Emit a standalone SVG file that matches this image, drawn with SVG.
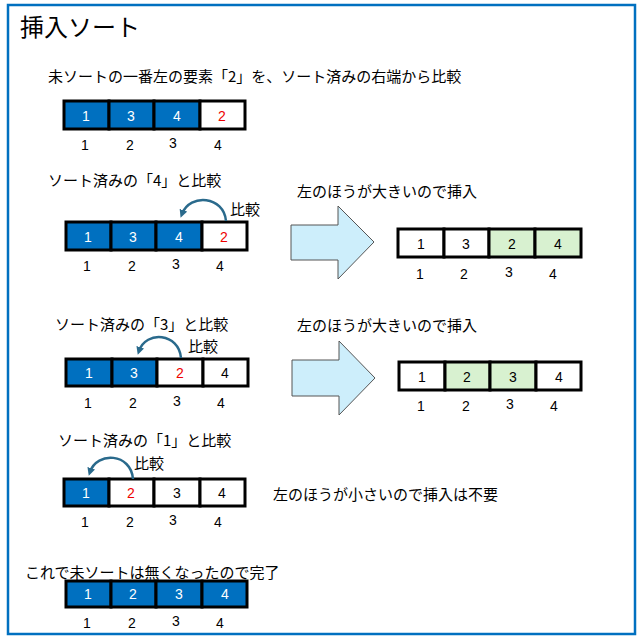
<svg xmlns="http://www.w3.org/2000/svg" width="639" height="637" viewBox="0 0 639 637">
<style>
text{font-family:"Noto Sans CJK JP","Liberation Sans",sans-serif;fill:#000}
.t{font-size:15px}
.n{font-size:14px;font-family:"Liberation Sans",sans-serif;text-anchor:middle}
.c{stroke:#000;stroke-width:3}
.b{fill:#0070c0}.w{fill:#fff}.g{fill:#d8f1d0}
.wt{fill:#fff}.r{fill:#e00}
.arc{fill:none;stroke:#2a6a8c;stroke-width:2.5}
.big{fill:#cdeefb;stroke:#555;stroke-width:1}
</style>
<defs>
<marker id="ah" markerWidth="8" markerHeight="8" refX="4" refY="4" orient="auto" markerUnits="userSpaceOnUse"><path d="M0,0 L8,4 L0,8z" fill="#2a6a8c"/></marker>
</defs>
<rect x="8" y="5" width="627" height="629" fill="#fff" stroke="#0070c0" stroke-width="2.5"/>
<text x="20" y="36" style="font-size:24px">挿入ソート</text>

<g id="row1">
<text class="t" x="48" y="82">未ソートの一番左の要素「2」を、ソート済みの右端から比較</text>
<rect class="c b" x="64" y="101" width="45" height="28"/><rect class="c b" x="109" y="101" width="45" height="28"/><rect class="c b" x="154" y="101" width="46" height="28"/><rect class="c w" x="200" y="101" width="45" height="28"/>
<text class="n wt" x="86" y="121">1</text><text class="n wt" x="131" y="121">3</text><text class="n wt" x="177" y="121">4</text><text class="n r" x="222" y="121">2</text>
<text class="n" x="85" y="150">1</text><text class="n" x="130" y="150">2</text><text class="n" x="173" y="148">3</text><text class="n" x="218" y="150">4</text>
</g>

<g id="row2">
<text class="t" x="48" y="186">ソート済みの「4」と比較</text>
<rect class="c b" x="66" y="222" width="45" height="28"/><rect class="c b" x="111" y="222" width="45" height="28"/><rect class="c b" x="156" y="222" width="46" height="28"/><rect class="c w" x="202" y="222" width="45" height="28"/>
<text class="n wt" x="88" y="242">1</text><text class="n wt" x="133" y="242">3</text><text class="n wt" x="179" y="242">4</text><text class="n r" x="224" y="242">2</text>
<text class="n" x="87" y="271">1</text><text class="n" x="132" y="271">2</text><text class="n" x="176" y="269">3</text><text class="n" x="220" y="271">4</text>
<text class="t" x="230" y="215">比較</text>
<text class="t" x="297" y="197">左のほうが大きいので挿入</text>
<path class="big" d="M291,225 H338 V206 L374,242 L338,279 V260 H291 Z"/>
<rect class="c w" x="398" y="229" width="46" height="28"/><rect class="c w" x="444" y="229" width="45" height="28"/><rect class="c g" x="489" y="229" width="46" height="28"/><rect class="c g" x="535" y="229" width="46" height="28"/>
<text class="n" x="421" y="249">1</text><text class="n" x="466" y="249">3</text><text class="n" x="512" y="249">2</text><text class="n" x="558" y="249">4</text>
<text class="n" x="420" y="279">1</text><text class="n" x="464" y="279">2</text><text class="n" x="509" y="277">3</text><text class="n" x="553" y="279">4</text>
</g>

<g id="row3">
<text class="t" x="55" y="330">ソート済みの「3」と比較</text>
<rect class="c b" x="66" y="359" width="46" height="27"/><rect class="c b" x="112" y="359" width="45" height="27"/><rect class="c w" x="157" y="359" width="46" height="27"/><rect class="c w" x="203" y="359" width="45" height="27"/>
<text class="n wt" x="89" y="378">1</text><text class="n wt" x="134" y="378">3</text><text class="n r" x="180" y="378">2</text><text class="n" x="225" y="378">4</text>
<text class="n" x="88" y="408">1</text><text class="n" x="133" y="408">2</text><text class="n" x="177" y="406">3</text><text class="n" x="221" y="408">4</text>
<text class="t" x="188" y="352">比較</text>
<text class="t" x="297" y="331">左のほうが大きいので挿入</text>
<path class="big" d="M292,360 H339 V341 L375,378 L339,415 V396 H292 Z"/>
<rect class="c w" x="399" y="362" width="46" height="28"/><rect class="c g" x="445" y="362" width="45" height="28"/><rect class="c g" x="490" y="362" width="46" height="28"/><rect class="c w" x="536" y="362" width="45" height="28"/>
<text class="n" x="422" y="382">1</text><text class="n" x="467" y="382">2</text><text class="n" x="513" y="382">3</text><text class="n" x="559" y="382">4</text>
<text class="n" x="421" y="411">1</text><text class="n" x="466" y="411">2</text><text class="n" x="510" y="409">3</text><text class="n" x="554" y="411">4</text>
</g>

<g id="row4">
<text class="t" x="58" y="446">ソート済みの「1」と比較</text>
<rect class="c b" x="64" y="479" width="45" height="27"/><rect class="c w" x="109" y="479" width="45" height="27"/><rect class="c w" x="154" y="479" width="46" height="27"/><rect class="c w" x="200" y="479" width="45" height="27"/>
<text class="n wt" x="86" y="498">1</text><text class="n r" x="131" y="498">2</text><text class="n" x="177" y="498">3</text><text class="n" x="222" y="498">4</text>
<text class="n" x="85" y="527">1</text><text class="n" x="130" y="527">2</text><text class="n" x="173" y="525">3</text><text class="n" x="218" y="527">4</text>
<text class="t" x="134" y="469">比較</text>
<text class="t" x="273" y="500">左のほうが小さいので挿入は不要</text>
</g>

<g id="row5">
<text class="t" x="25" y="578">これで未ソートは無くなったので完了</text>
<rect class="c b" x="66" y="581" width="45" height="26"/><rect class="c b" x="111" y="581" width="45" height="26"/><rect class="c b" x="156" y="581" width="46" height="26"/><rect class="c b" x="202" y="581" width="45" height="26"/>
<text class="n wt" x="88" y="599">1</text><text class="n wt" x="133" y="599">2</text><text class="n wt" x="179" y="599">3</text><text class="n wt" x="225" y="599">4</text>
<text class="n" x="87" y="628">1</text><text class="n" x="132" y="628">2</text><text class="n" x="176" y="626">3</text><text class="n" x="220" y="628">4</text>
</g>

<g id="connectors">
<path class="arc" d="M226,221 C224,196 190,193 182,214" marker-end="url(#ah)"/>
<path class="arc" d="M181,358 C179,333 146,330 139,351" marker-end="url(#ah)"/>
<path class="arc" d="M133,479 C131,453 97,451 90,472" marker-end="url(#ah)"/>
</g>
</svg>
